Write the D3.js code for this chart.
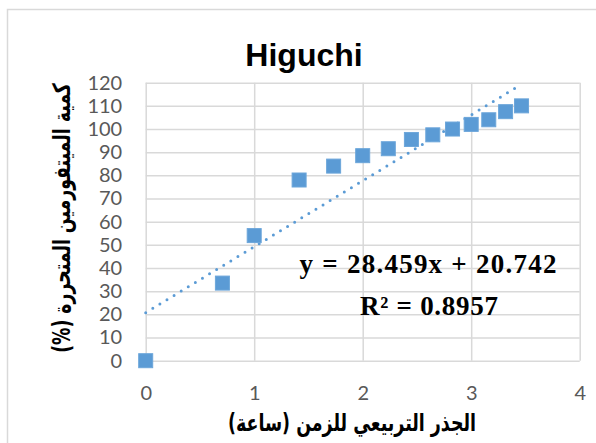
<!DOCTYPE html>
<html>
<head>
<meta charset="utf-8">
<script src="https://cdn.jsdelivr.net/npm/d3@7"></script>
<style>
  html, body { margin: 0; padding: 0; background: #ffffff; }
  svg { display: block; }
</style>
</head>
<body>
<svg id="chart" width="596" height="443"></svg>
<script>
// Square root of time (h^0.5) and cumulative metformin released (%)
const sqrtTime = [0, 0.707, 1, 1.414, 1.732, 2, 2.236, 2.449, 2.646, 2.828, 3, 3.162, 3.317, 3.464];
const released = [0, 33.5, 54, 78, 84, 88.5, 91.5, 95.5, 97.5, 100, 102, 104, 107.5, 110];

// Linear fit (Higuchi model)
const slope = 28.459;
const intercept = 20.742;
const rSquared = 0.8957;

const xTicks = [0, 1, 2, 3, 4];
const yTicks = [0, 10, 20, 30, 40, 50, 60, 70, 80, 90, 100, 110, 120];

const titleText = "Higuchi";
const xTitle = "الجذر التربيعي للزمن (ساعة)";
const yTitle = "كمية الميتفورمين المتحررة (%)";

const blue = "#5B9BD5";
const grid = "#D9D9D9";
const tickColor = "#595959";

const svg = d3.select("#chart");

// chart frame
svg.append("rect")
  .attr("x", 7.5).attr("y", 9.5)
  .attr("width", 620).attr("height", 460)
  .attr("fill", "#fff").attr("stroke", grid).attr("stroke-width", 1.5);

const plotLeft = 145.7, plotRight = 579.7, plotTop = 82.7, plotBottom = 360.7;

const x = d3.scaleLinear().domain([0, 4]).range([plotLeft, plotRight]);
const y = d3.scaleLinear().domain([0, 120]).range([plotBottom, plotTop]);

// horizontal gridlines + y labels
const yAxis = svg.append("g")
  .attr("transform", `translate(${plotLeft},0)`)
  .call(d3.axisLeft(y).tickValues(yTicks).tickSize(-(plotRight - plotLeft)).tickPadding(23.5));
yAxis.select(".domain").remove();
yAxis.selectAll(".tick line").attr("stroke", grid).attr("stroke-width", 1.5);
yAxis.selectAll(".tick text")
  .attr("fill", tickColor)
  .style("font-family", "Lato, 'Open Sans', sans-serif")
  .style("font-size", "20px");

// vertical gridlines + x labels
const xAxis = svg.append("g")
  .attr("transform", `translate(0,${plotBottom})`)
  .call(d3.axisBottom(x).tickValues(xTicks).tickSize(-(plotBottom - plotTop)).tickPadding(25).tickFormat(d3.format("d")));
xAxis.select(".domain").remove();
xAxis.selectAll(".tick line").attr("stroke", grid).attr("stroke-width", 1.5);
xAxis.selectAll(".tick text")
  .attr("fill", tickColor)
  .style("font-family", "Lato, 'Open Sans', sans-serif")
  .style("font-size", "20px");

// trendline, dotted, over the fitted range
const xMin = d3.min(sqrtTime), xMax = d3.max(sqrtTime);
svg.append("line")
  .attr("x1", x(xMin)).attr("y1", y(slope * xMin + intercept))
  .attr("x2", x(xMax)).attr("y2", y(slope * xMax + intercept))
  .attr("stroke", blue)
  .attr("stroke-width", 3)
  .attr("stroke-linecap", "round")
  .attr("stroke-dasharray", "0 8.3");

// square markers
const pts = sqrtTime.map((t, i) => ({ t, v: released[i] }));
const ms = 14;
svg.append("g").selectAll("rect")
  .data(pts)
  .join("rect")
  .attr("x", d => x(d.t) - ms / 2)
  .attr("y", d => y(d.v) - ms / 2)
  .attr("width", ms).attr("height", ms)
  .attr("fill", blue)
  .attr("stroke", "#6CA6DA")
  .attr("stroke-width", 1);

// title
svg.append("text")
  .attr("x", 304).attr("y", 66)
  .attr("text-anchor", "middle")
  .style("font-family", "'Liberation Sans', Arial, sans-serif")
  .style("font-weight", "bold")
  .style("font-size", "32px")
  .attr("fill", "#000")
  .text(titleText);

// equation and R²
const eqFont = "'Liberation Serif', 'Times New Roman', serif";
svg.append("text")
  .attr("x", 428).attr("y", 273)
  .attr("text-anchor", "middle")
  .style("font-family", eqFont).style("font-weight", "bold").style("font-size", "27px")
  .attr("textLength", 257).attr("lengthAdjust", "spacing")
  .text(`y = ${slope}x + ${intercept}`);
svg.append("text")
  .attr("x", 429).attr("y", 315)
  .attr("text-anchor", "middle")
  .style("font-family", eqFont).style("font-weight", "bold").style("font-size", "27px")
  .attr("textLength", 138).attr("lengthAdjust", "spacing")
  .text(`R² = ${rSquared}`);

// Arabic axis titles: full-height glyphs, squeezed horizontally to their span
function arabicTitle(text, baseTransform, target) {
  const g = svg.append("g").attr("transform", baseTransform);
  const t = g.append("text")
    .attr("text-anchor", "middle")
    .attr("direction", "rtl")
    .style("font-family", "'DejaVu Sans', sans-serif")
    .style("font-weight", "bold")
    .style("font-size", "24px")
    .attr("fill", "#000")
    .text(text);
  const w = t.node().getComputedTextLength();
  t.attr("transform", `scale(${target / w},1)`);
}

arabicTitle(xTitle, "translate(352,431)", 248);
arabicTitle(yTitle, "translate(70,218) rotate(-90)", 270);
</script>
</body>
</html>
